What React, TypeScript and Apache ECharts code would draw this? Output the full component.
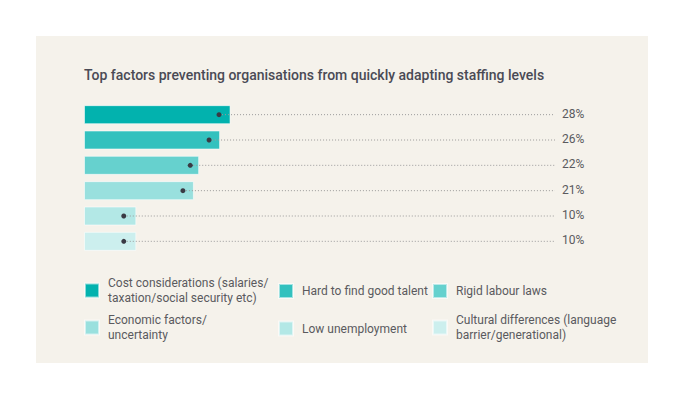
import { useEffect, useRef } from 'react';
import * as echarts from 'echarts';

const title = 'Top factors preventing organisations from quickly adapting staffing levels';

const categories = [
  'Cost considerations (salaries/\ntaxation/social security etc)',
  'Hard to find good talent',
  'Rigid labour laws',
  'Economic factors/\nuncertainty',
  'Low unemployment',
  'Cultural differences (language\nbarrier/generational)',
];
const values = [28, 26, 22, 21, 10, 10];
const markerValues = [25.8, 23.9, 20.3, 18.9, 7.6, 7.6];
const colors = ['#02b2ae', '#33c1be', '#66d1ce', '#99e0de', '#b3e8e6', '#ccefee'];

// legend slots: [left, top]
const legendPos: [number, number][] = [
  [84, 276],
  [278, 283],
  [432, 283],
  [84, 313],
  [278, 320.5],
  [432, 313],
];

const AXIS_MAX = 90;

function App() {
  const chartRef = useRef<HTMLDivElement>(null);

  useEffect(() => {
    if (!chartRef.current) return;
    const chart = echarts.init(chartRef.current, null, { renderer: 'svg' });

    const barSeries = categories.map((name, i) => ({
      type: 'bar' as const,
      name,
      stack: 'f',
      barWidth: 19,
      data: values.map((v, j) => (j === i ? v : '-')),
      itemStyle: { color: colors[i], borderColor: 'rgba(255,255,255,0.55)', borderWidth: 1 },
      z: 2,
    }));

    const option: echarts.EChartsOption = {
      animation: false,
      backgroundColor: '#ffffff',
      textStyle: { fontFamily: 'Roboto' },
      title: {
        text: title,
        left: 84,
        top: 68,
        padding: 0,
        textStyle: { fontSize: 14, fontWeight: 500, color: '#4a4a55', fontFamily: 'Roboto' },
      },
      graphic: [
        {
          type: 'rect',
          z: -10,
          silent: true,
          shape: { x: 36, y: 36, width: 612, height: 327 },
          style: { fill: '#f5f2eb' },
        },
      ],
      legend: categories.map((name, i) => ({
        data: [name],
        left: legendPos[i][0],
        top: legendPos[i][1],
        orient: 'vertical',
        padding: 0,
        itemWidth: 14,
        itemHeight: 14,
        icon: 'rect',
        selectedMode: false,
        textStyle: {
          fontSize: 12,
          lineHeight: 14.5,
          color: '#5a5a5e',
          fontFamily: 'Roboto',
          padding: [0, 0, 0, 4],
        },
      })),
      grid: { left: 84, right: 129, top: 102, height: 152 },
      xAxis: {
        type: 'value',
        min: 0,
        max: AXIS_MAX,
        show: false,
        splitLine: { show: false },
      },
      yAxis: {
        type: 'category',
        data: categories,
        inverse: true,
        show: false,
      },
      series: [
        ...barSeries,
        {
          type: 'custom',
          z: 5,
          data: markerValues.map((m, i) => [m, i, values[i]]),
          renderItem: (params: any, api: any) => {
            const start = api.coord([api.value(0), api.value(1)]);
            const end = api.coord([AXIS_MAX, api.value(1)]);
            return {
              type: 'group',
              children: [
                {
                  type: 'line',
                  shape: { x1: start[0], y1: start[1], x2: end[0], y2: end[1] },
                  style: { stroke: '#9a9a9a', lineWidth: 1, lineDash: [1, 2] },
                },
                {
                  type: 'circle',
                  shape: { cx: start[0], cy: start[1], r: 2.5 },
                  style: { fill: '#3a3a44' },
                },
                {
                  type: 'text',
                  x: end[0] + 7,
                  y: end[1] - 1,
                  style: {
                    text: api.value(2) + '%',
                    fill: '#5a5a5e',
                    fontSize: 12,
                    fontFamily: 'Roboto',
                    verticalAlign: 'middle',
                    align: 'left',
                  },
                },
              ],
            };
          },
        },
      ],
    };

    chart.setOption(option);

    return () => {
      chart.dispose();
    };
  }, []);

  return (
    <div
      ref={chartRef}
      style={{ position: 'absolute', left: 0, top: 0, width: '684px', height: '400px' }}
    />
  );
}

export default App;
